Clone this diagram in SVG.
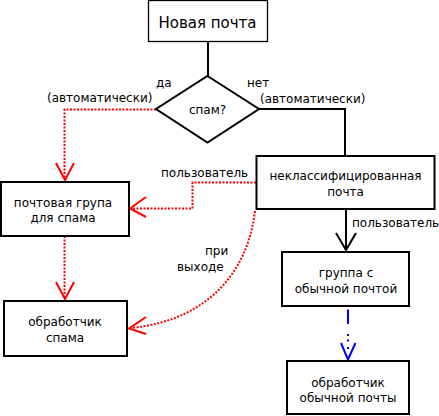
<svg xmlns="http://www.w3.org/2000/svg" width="439" height="416" viewBox="0 0 439 416">
<style>
text{font-family:"DejaVu Sans","Liberation Sans",sans-serif;font-size:12px;fill:#000}
.c{text-anchor:middle}
.box{fill:#fff;stroke:#000;stroke-width:2}
.blk{fill:none;stroke:#000;stroke-width:2}
.red{fill:none;stroke:#f00;stroke-width:2;stroke-dasharray:2,1.5}
.redh{fill:none;stroke:#f00;stroke-width:2}
.blue{fill:none;stroke:#00f;stroke-width:2}
</style>
<rect width="439" height="416" fill="#fff"/>
<g id="connectors">
<path class="blk" d="M208,42 V76"/>
<path class="blk" d="M259,109 H345 V156"/>
<path class="blk" d="M346,210 V249"/>
<path class="blk" d="M336,233 L346,250 L356,233"/>
<path class="red" d="M156,109.5 H64.5 V178"/>
<path class="redh" d="M56,163 L65,180 L74,163"/>
<path class="red" d="M256,182.5 H192.5 V208.5 H132"/>
<path class="redh" d="M146,197 L130,208.5 L146,217"/>
<path class="red" d="M64.5,236 V297"/>
<path class="redh" d="M56,282 L65,299 L74,282"/>
<path class="red" d="M255,211 C248,270 210,320 131,328"/>
<path class="redh" d="M146,317 L129,328.5 L146,334"/>
<path class="blue" d="M348,309.5 V324 M348,334 V336 M348,339.5 V341.5 M348,347 V349"/>
<path class="blue" d="M341,343 L348,359.5 L355.5,343"/>
</g>
<g id="n-new"><rect x="148.5" y="0.5" width="119" height="41" fill="#fff" stroke="#000" stroke-width="1.3"/><text class="c" x="207.5" y="28" style="font-size:15px">Новая почта</text></g>
<g id="n-spam-q"><polygon class="box" points="207.5,76 259,109 207.5,142.5 156,109"/><text class="c" x="207.5" y="114">спам?</text></g>
<g id="n-unclass"><rect class="box" x="256.5" y="156" width="178" height="53"/><text class="c" x="345.5" y="180">неклассифицированная</text><text class="c" x="345.5" y="196">почта</text></g>
<g id="n-spamgroup"><rect class="box" x="1" y="182" width="128" height="54"/><text class="c" x="63" y="207">почтовая група</text><text class="c" x="63" y="222">для спама</text></g>
<g id="n-spamhandler"><rect class="box" x="4" y="301" width="123" height="55"/><text class="c" x="65" y="326">обработчик</text><text class="c" x="65" y="342">спама</text></g>
<g id="n-normalgroup"><rect class="box" x="282" y="252" width="127" height="54"/><text class="c" x="346" y="277">группа с</text><text class="c" x="346" y="293">обычной почтой</text></g>
<g id="n-normalhandler"><rect class="box" x="287" y="361" width="122" height="53"/><text class="c" x="348" y="387">обработчик</text><text class="c" x="348" y="402">обычной почты</text></g>
<g id="labels">
<text x="156" y="87">да</text>
<text x="47" y="102">(автоматически)</text>
<text x="247" y="87">нет</text>
<text x="260" y="103">(автоматически)</text>
<text x="161" y="177">пользователь</text>
<text x="205" y="255">при</text>
<text x="177" y="271">выходе</text>
<text x="352" y="227">пользователь</text>
</g>
</svg>
